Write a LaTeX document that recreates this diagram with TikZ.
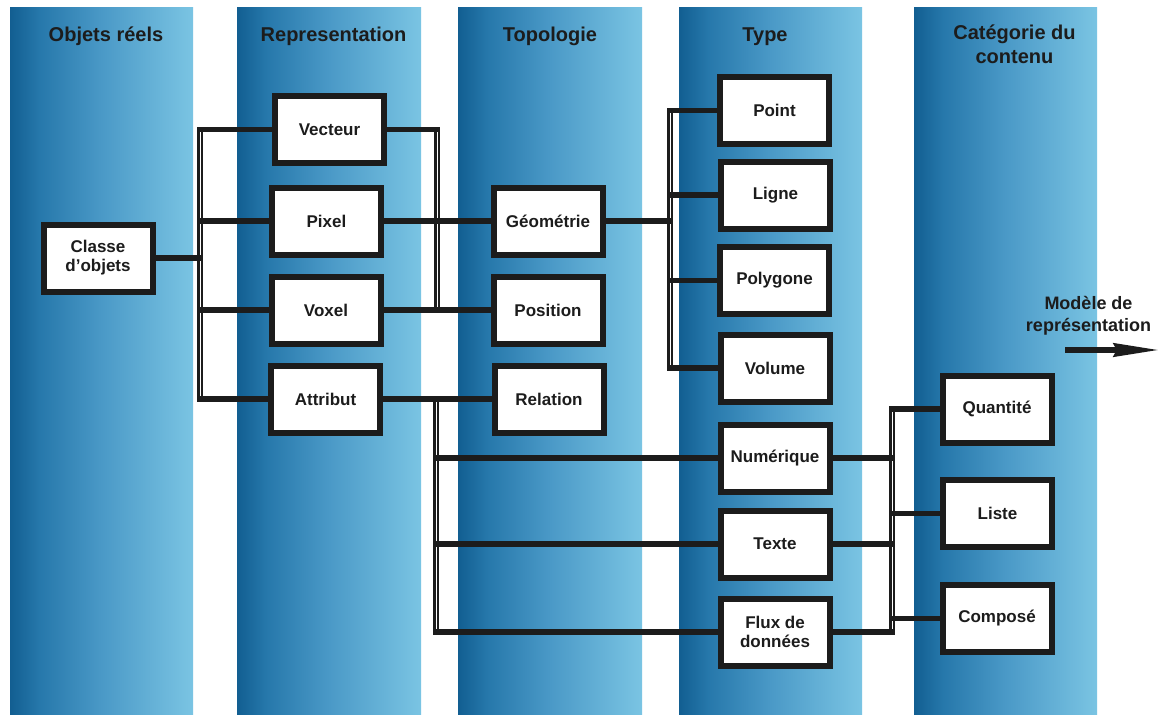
\documentclass[tikz,border=0pt]{standalone}
\usepackage{fontspec}
\setmainfont{Liberation Sans}
\usetikzlibrary{arrows.meta,calc}
\definecolor{ink}{RGB}{28,28,28}
\pgfdeclarehorizontalshading{colband}{100bp}{rgb(0bp)=(0.07,0.37,0.57); rgb(25bp)=(0.07,0.37,0.57); rgb(33bp)=(0.15,0.47,0.67); rgb(50bp)=(0.29,0.60,0.78); rgb(75bp)=(0.48,0.77,0.89); rgb(100bp)=(0.48,0.77,0.89)}
\tikzset{
  colband/.style={shading=colband},
  ttl/.style={font=\fontsize{20}{24}\selectfont\bfseries, text=ink, align=center, inner sep=0pt},
  bx/.style={draw=ink, line width=6pt, fill=white, minimum width=109pt, minimum height=67pt, inner sep=0pt, font=\fontsize{17}{19}\selectfont\bfseries, text=ink, align=center},
  conn/.style={draw=ink, line width=5.5pt, line cap=rect},
  vbus/.style={draw=ink, line width=2.4pt, double=white, double distance=0.7pt},
  lbl/.style={font=\fontsize{18}{22}\selectfont\bfseries, text=ink, align=center, inner sep=0pt},
  arr/.style={draw=ink, line width=6pt, -{Stealth[length=46pt,width=13pt,inset=3pt]}}
}
\begin{document}
\begin{tikzpicture}[x=1pt,y=-1pt]
\useasboundingbox (0,0) rectangle (1160,715);
\fill[white] (0,0) rectangle (1160,715);
% column bands
\foreach \a/\b in {10/193, 237/421, 458/642, 679/862, 914/1097}
  \shade[colband] (\a,7) rectangle (\b,715);
% titles
\node[ttl, anchor=base] (t1) at (106,41) {Objets réels};
\node[ttl, anchor=base] (t2) at (333.5,41) {Representation};
\node[ttl, anchor=base] (t3) at (550,41) {Topologie};
\node[ttl, anchor=base] (t4) at (765,41) {Type};
\node[ttl, anchor=base] (t5) at (1014.5,63) {Catégorie du\\contenu};
% boxes
\node[bx] (cl)  at (98,258)     {Classe\\d’objets};
\node[bx] (ve)  at (329.5,129.5) {Vecteur};
\node[bx] (px)  at (326.5,221)  {Pixel};
\node[bx] (vo)  at (326,310)    {Voxel};
\node[bx] (at)  at (325.5,399)  {Attribut};
\node[bx] (ge)  at (548,221)    {Géométrie};
\node[bx] (pos) at (548,310)    {Position};
\node[bx] (re)  at (549,399)    {Relation};
\node[bx] (po)  at (774.5,110.5) {Point};
\node[bx] (li)  at (775.5,195)  {Ligne};
\node[bx] (pg)  at (774.5,280.5) {Polygone};
\node[bx] (vl)  at (775,368)    {Volume};
\node[bx] (nu)  at (775,458)    {Numérique};
\node[bx] (te)  at (775,544)    {Texte};
\node[bx] (fl)  at (775,632)    {Flux de\\données};
\node[bx] (qu)  at (997,409)    {Quantité};
\node[bx] (ls)  at (997.5,513.5) {Liste};
\node[bx] (co)  at (997,618.5)  {Composé};
% bus positions
\coordinate (b1) at (200,0);
\coordinate (b2) at (437,0);
\coordinate (b3) at (436,0);
\coordinate (b4) at (670,0);
\coordinate (b5) at (892,0);
% vertical buses
\draw[vbus] (b1 |- ve.west) -- (b1 |- at.west);
\draw[vbus] (b2 |- ve.east) -- (b2 |- vo.east);
\draw[vbus] (b3 |- at.east) -- (b3 |- fl.west);
\draw[vbus] (b4 |- po.west) -- (b4 |- vl.west);
\draw[vbus] (b5 |- qu.west) -- (b5 |- fl.east);
% horizontal connectors
\draw[conn] (cl.east) -- (cl.east -| b1);
\foreach \n in {ve,px,vo,at} \draw[conn] (b1 |- \n.west) -- (\n.west);
\draw[conn] (ve.east) -- (ve.east -| b2);
\draw[conn] (px.east) -- (ge.west);
\draw[conn] (vo.east) -- (pos.west);
\draw[conn] (at.east) -- (re.west);
\foreach \n in {nu,te,fl} \draw[conn] (b3 |- \n.west) -- (\n.west);
\draw[conn] (ge.east) -- (ge.east -| b4);
\foreach \n in {po,li,pg,vl} \draw[conn] (b4 |- \n.west) -- (\n.west);
\foreach \n in {nu,te,fl} \draw[conn] (\n.east) -- (\n.east -| b5);
\foreach \n in {qu,ls,co} \draw[conn] (b5 |- \n.west) -- (\n.west);
% representation model arrow
\node[lbl, anchor=base] (mr) at (1088.5,331) {Modèle de\\représentation};
\coordinate (a1) at (1065,350);
\coordinate (a2) at (1160,350);
\draw[arr] (a1) -- (a2);
\end{tikzpicture}
\end{document}
